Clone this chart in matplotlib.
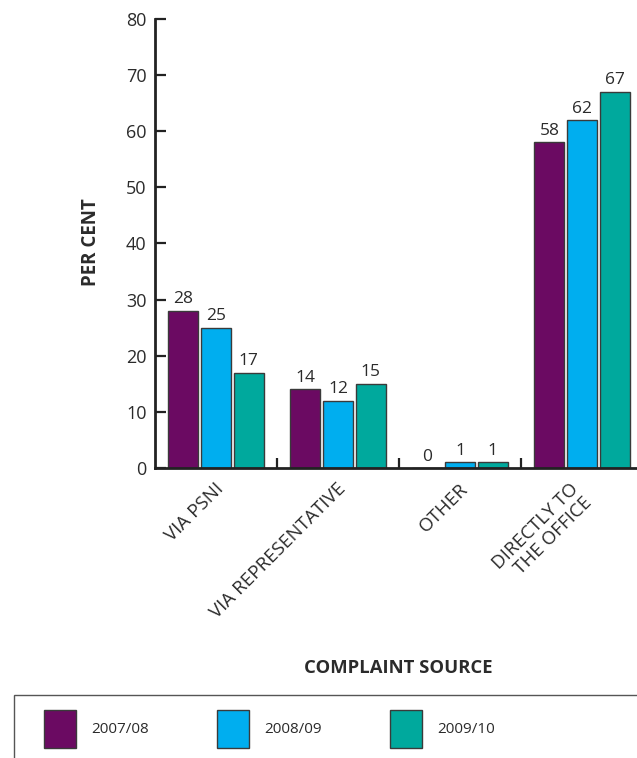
import matplotlib
matplotlib.use("Agg")
import matplotlib.pyplot as plt
import matplotlib.transforms as mtransforms
import numpy as np
from matplotlib.patches import Patch, Rectangle

categories = ["VIA PSNI", "VIA REPRESENTATIVE", "OTHER", "DIRECTLY TO\nTHE OFFICE"]
series_names = ["2007/08", "2008/09", "2009/10"]
v2007 = [28, 14, 0, 58]
v2008 = [25, 12, 1, 62]
v2009 = [17, 15, 1, 67]
colors = ["#6B0A62", "#00AEEF", "#00A99D"]
yticks = [0, 10, 20, 30, 40, 50, 60, 70, 80]

plt.rcParams['font.family'] = ['Open Sans', 'DejaVu Sans']
txt = "#2b2b2b"

W, H = 637, 758
fig = plt.figure(figsize=(W / 100, H / 100), dpi=100)
ax = fig.add_axes([155 / W, (H - 468) / H, 488 / W, 449 / H])

x = np.arange(len(categories))
off = 0.267
bw = 0.245
for i, (vals, c) in enumerate(zip([v2007, v2008, v2009], colors)):
    bars = ax.bar(x + (i - 1) * off, vals, width=bw, color=c, edgecolor="#3a3a3a",
                  linewidth=1.0, label=series_names[i], zorder=2)
    ax.bar_label(bars, labels=[str(v) for v in vals], padding=2.5, fontsize=12.5, color=txt)

ax.set_xlim(-0.5, 3.5)
ax.set_ylim(0, 80)
ax.set_yticks(yticks)
ax.set_yticklabels([str(t) for t in yticks], fontsize=13, color=txt)
ax.tick_params(axis='y', direction='in', length=8, width=1.6, color="#222222", pad=6)

ax.set_xticks([0.5, 1.5, 2.5])
ax.set_xticklabels([])
ax.tick_params(axis='x', which='major', direction='in', length=7, width=1.6, color="#222222")

# category labels (rotated)
base = mtransforms.blended_transform_factory(ax.transData, ax.transAxes)
for i, cat in enumerate(categories):
    dx = -13 if "\n" in cat else -1
    tr = base + mtransforms.ScaledTranslation(dx / 100, -12 / 100, fig.dpi_scale_trans)
    ax.text(x[i], 0, cat, transform=tr, rotation=45, ha='right', va='top',
            rotation_mode='anchor', fontsize=13.5, color=txt, multialignment='right',
            linespacing=1.1)

for s in ['top', 'right']:
    ax.spines[s].set_visible(False)
for s in ['left', 'bottom']:
    ax.spines[s].set_linewidth(2)
    ax.spines[s].set_color("#222222")

ax.set_ylabel("PER CENT", fontsize=13.5, fontweight='bold', color=txt)
ax.yaxis.set_label_coords(-0.11, 0.503)

fig.text(398 / W, 1 - 668 / H, "COMPLAINT SOURCE", ha='center', va='center',
         fontsize=13.3, fontweight='bold', color=txt)

# legend frame
fig.patches.append(Rectangle((14 / W, -0.01), 1.0, (H - 695) / H + 0.01,
                             transform=fig.transFigure, fill=False,
                             edgecolor="#555555", linewidth=1.0))
handles = [Patch(facecolor=c, edgecolor="#3a3a3a", linewidth=1.0) for c in colors]
fig.legend(handles, series_names, loc='center left', ncol=3, frameon=False,
           bbox_to_anchor=(44 / W, 1 - 729 / H), fontsize=11,
           handlelength=2.1, handleheight=3.55, handletextpad=1.0,
           columnspacing=4.45, labelcolor=txt, borderaxespad=0, borderpad=0)

fig.savefig("out.png", dpi=100)
